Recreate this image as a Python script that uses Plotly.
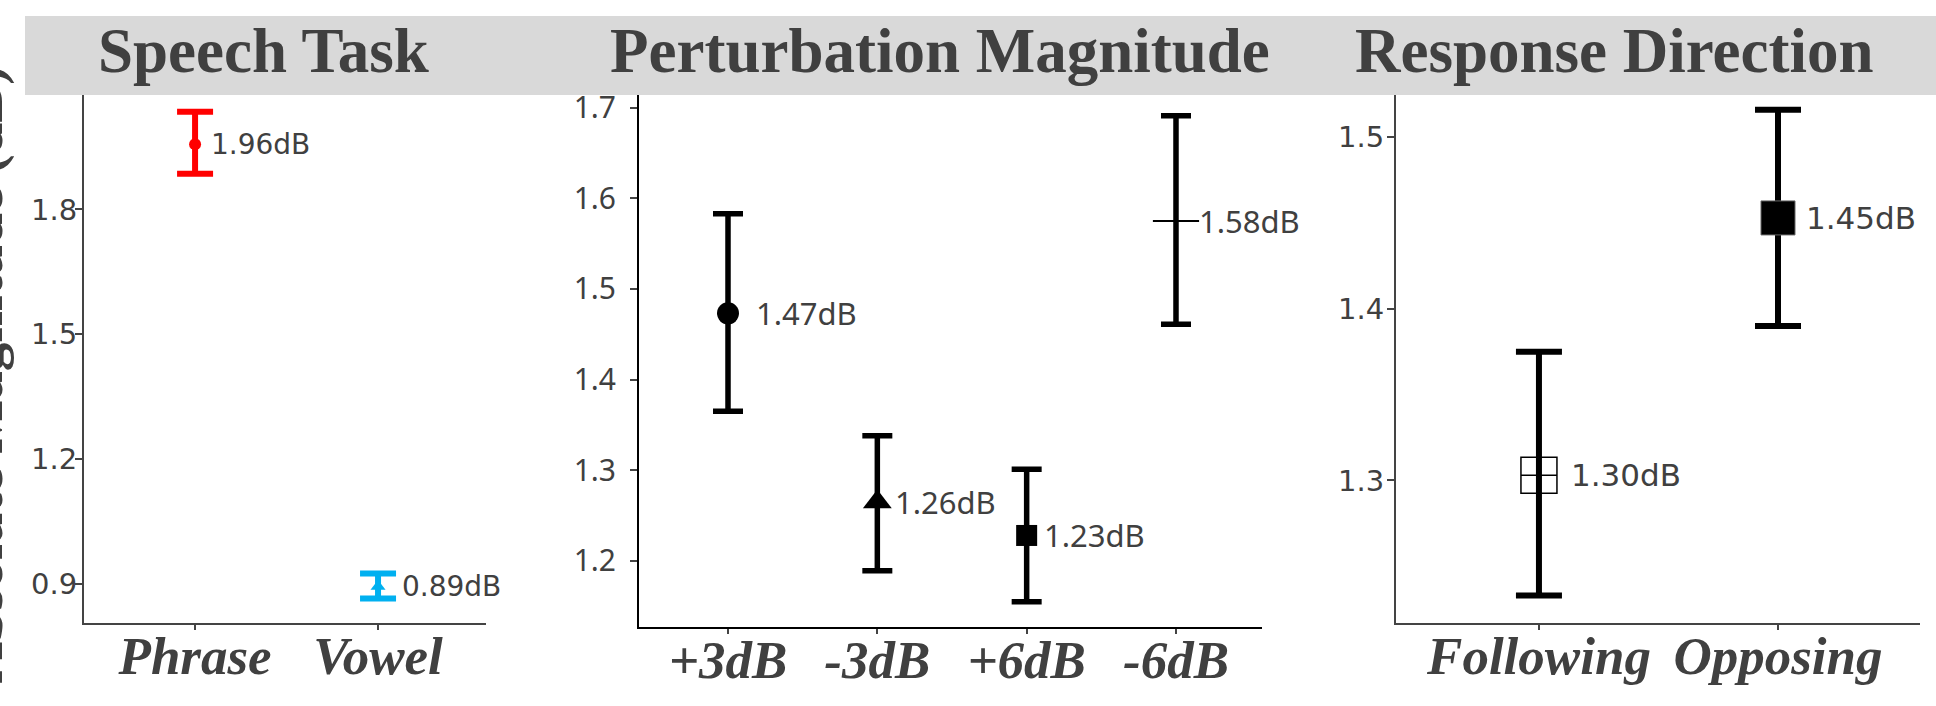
import plotly.graph_objects as go

W, H = 1936, 706

# ---------------- data ----------------
titles = ["Speech Task", "Perturbation Magnitude", "Response Direction"]
y_title = "Absolute Magnitude (dB)"

task_cats = ["Phrase", "Vowel"]
task_mean = [1.957, 0.893]
task_hi = [2.035, 0.924]
task_lo = [1.886, 0.864]
task_labels = ["1.96dB", "0.89dB"]
task_ticks = [0.9, 1.2, 1.5, 1.8]

mag_cats = ["+3dB", "-3dB", "+6dB", "-6dB"]
mag_mean = [1.473, 1.265, 1.228, 1.575]
mag_hi = [1.583, 1.338, 1.301, 1.691]
mag_lo = [1.365, 1.189, 1.155, 1.461]
mag_labels = ["1.47dB", "1.26dB", "1.23dB", "1.58dB"]
mag_ticks = [1.2, 1.3, 1.4, 1.5, 1.6, 1.7]

dir_cats = ["Following", "Opposing"]
dir_mean = [1.303, 1.453]
dir_hi = [1.375, 1.516]
dir_lo = [1.233, 1.390]
dir_labels = ["1.30dB", "1.45dB"]
dir_ticks = [1.3, 1.4, 1.5]

# ---------------- styles ----------------
GRAY_TXT = "#404040"
AX_GRAY = "#444444"
SERIF = "Liberation Serif"

fig = go.Figure()


def px_x(p):
    return p / W


def px_y(p):
    return 1 - p / H


def add_point(xa, ya, cat, mean, hi, lo, color, symbol, size, thick, capw,
              mline_w=0, mline_c=None):
    fig.add_trace(go.Scatter(
        x=[cat], y=[mean], xaxis=xa, yaxis=ya, mode="markers",
        marker=dict(symbol=symbol, size=size, color=color,
                    line=dict(width=mline_w, color=mline_c or color)),
        error_y=dict(type="data", symmetric=False,
                     array=[hi - mean], arrayminus=[mean - lo],
                     color=color, thickness=thick, width=capw),
        showlegend=False, hoverinfo="skip"))


# Panel 1
p1_colors = ["#ff0000", "#00b0f0"]
p1_symbols = ["circle", "triangle-up"]
p1_sizes = [12, 13]
for i, c in enumerate(task_cats):
    add_point("x", "y", c, task_mean[i], task_hi[i], task_lo[i],
              p1_colors[i], p1_symbols[i], p1_sizes[i], 6, 18)

# Panel 2
p2_symbols = ["circle", "triangle-up", "square", "line-ew"]
p2_sizes = [22, 25, 21, 33]
p2_lw = [0, 0, 0, 2]
for i, c in enumerate(mag_cats):
    add_point("x2", "y2", c, mag_mean[i], mag_hi[i], mag_lo[i],
              "#000000", p2_symbols[i], p2_sizes[i], 5.5, 15,
              mline_w=p2_lw[i], mline_c="#000000")

# Panel 3
p3_symbols = ["square-cross-open", "square"]
p3_sizes = [36, 34]
p3_lw = [1.5, 1]
p3_lc = ["#000000", "#666666"]
for i, c in enumerate(dir_cats):
    add_point("x3", "y3", c, dir_mean[i], dir_hi[i], dir_lo[i],
              "#000000", p3_symbols[i], p3_sizes[i], 6, 23,
              mline_w=p3_lw[i], mline_c=p3_lc[i])

annotations = []
# value labels
for cats, means, labels, xa, ya, shifts, fnt, fs in [
    (task_cats, task_mean, task_labels, "x", "y", [14, 22], "DejaVu Sans", 28),
    (mag_cats, mag_mean, mag_labels, "x2", "y2", [26, 16, 15, 21], "Noto Sans", 31),
    (dir_cats, dir_mean, dir_labels, "x3", "y3", [30, 26], "DejaVu Sans", 31),
]:
    for i, c in enumerate(cats):
        annotations.append(dict(
            x=c, y=means[i], xref=xa, yref=ya, text=labels[i],
            showarrow=False, xanchor="left", yanchor="middle", xshift=shifts[i],
            font=dict(family=fnt, size=fs, color=GRAY_TXT)))

# panel titles
title_cx = [263, 940, 1614]
for t, cx in zip(titles, title_cx):
    annotations.append(dict(
        x=px_x(cx), y=px_y(43), xref="paper", yref="paper", text=t,
        showarrow=False, xanchor="center", yanchor="middle",
        font=dict(family=SERIF, size=63, color=GRAY_TXT, weight="bold")))

# y axis title (mostly clipped at left edge, as in the original figure)
annotations.append(dict(
    x=px_x(17), y=px_y(370), xref="paper", yref="paper", text=y_title,
    showarrow=False, xanchor="right", yanchor="middle", textangle=-90,
    font=dict(family=SERIF, size=57, color=GRAY_TXT, weight="bold")))

# grey header band
shapes = [dict(type="rect", xref="paper", yref="paper",
               x0=px_x(25), x1=1, y0=px_y(87), y1=px_y(7),
               fillcolor="#d9d9d9", line=dict(width=0), layer="below")]

xtickfont = dict(family=SERIF, size=53, color=GRAY_TXT, weight="bold", style="italic")


def xaxis(dom, rng, cats, linecolor):
    return dict(domain=dom, range=rng, type="category",
                categoryorder="array", categoryarray=cats,
                showline=True, linecolor=linecolor, linewidth=2,
                ticks="outside", ticklen=5, tickwidth=1.5, tickcolor=AX_GRAY,
                showgrid=False, zeroline=False, tickfont=xtickfont,
                ticklabelstandoff=-20, fixedrange=True)


def yaxis(dom, rng, tv, linecolor, fnt, fs, standoff, anchor):
    return dict(domain=dom, range=rng, tickvals=tv,
                ticktext=[f"{v:.1f}" for v in tv],
                showline=True, linecolor=linecolor, linewidth=2,
                ticks="outside", ticklen=7, tickwidth=1.5, tickcolor=AX_GRAY,
                showgrid=False, zeroline=False,
                tickfont=dict(family=fnt, size=fs, color=GRAY_TXT),
                ticklabelstandoff=standoff, anchor=anchor, fixedrange=True)


fig.update_layout(
    width=W, height=H, margin=dict(l=0, r=0, t=0, b=0),
    paper_bgcolor="white", plot_bgcolor="white",
    xaxis=xaxis([px_x(84), px_x(486)], [-0.607, 1.59], task_cats, AX_GRAY),
    yaxis=yaxis([px_y(622), px_y(87)], [0.805, 2.0755], task_ticks, AX_GRAY,
                "DejaVu Sans", 29, -8, "x"),
    xaxis2=xaxis([px_x(639), px_x(1262)], [-0.596, 3.576], mag_cats, "#000000"),
    yaxis2=yaxis([px_y(626), px_y(87)], [1.127, 1.714], mag_ticks, "#000000",
                 "Noto Sans", 30, 8, "x2"),
    xaxis3=xaxis([px_x(1396), px_x(1920)], [-0.598, 1.594], dir_cats, AX_GRAY),
    yaxis3=yaxis([px_y(622), px_y(87)], [1.2169, 1.5247], dir_ticks, AX_GRAY,
                 "DejaVu Sans", 29, -3, "x3"),
    annotations=annotations, shapes=shapes,
)
fig.update_layout(xaxis2_anchor="y2", xaxis3_anchor="y3", xaxis_anchor="y")

fig.write_html("out.html",
               config={"displayModeBar": False},
               post_script="document.body.style.margin='0px';"
                           "document.body.style.overflow='hidden';")
